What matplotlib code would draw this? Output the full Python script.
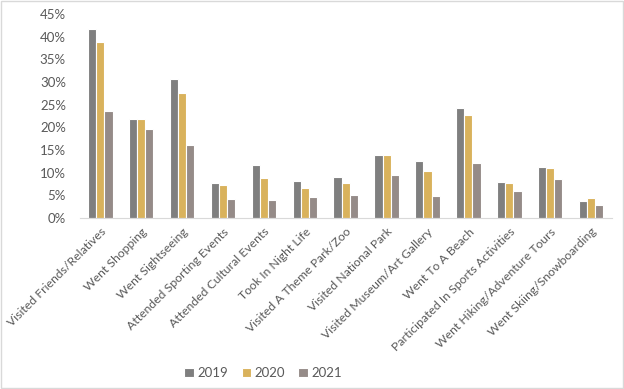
import matplotlib
matplotlib.use("Agg")
import matplotlib.pyplot as plt
import numpy as np
from matplotlib.ticker import PercentFormatter
from matplotlib.patches import Rectangle

# дані (у відсотках)
activities = [
    "Visited Friends/Relatives", "Went Shopping", "Went Sightseeing",
    "Attended Sporting Events", "Attended Cultural Events", "Took In Night Life",
    "Visited A Theme Park/Zoo", "Visited National Park", "Visited Museum/Art Gallery",
    "Went To A Beach", "Participated In Sports Activities",
    "Went Hiking/Adventure Tours", "Went Skiing/Snowboarding",
]
years = ["2019", "2020", "2021"]
v2019 = [41.7, 21.8, 30.7, 7.7, 11.7, 8.2, 9.0, 13.9, 12.6, 24.3, 7.9, 11.2, 3.7]
v2020 = [38.8, 21.8, 27.6, 7.2, 8.8, 6.6, 7.7, 13.8, 10.4, 22.7, 7.7, 11.0, 4.3]
v2021 = [23.6, 19.6, 16.1, 4.2, 4.0, 4.7, 5.1, 9.5, 4.8, 12.1, 5.9, 8.6, 2.8]

colors = ["#7f7f7f", "#d9b25c", "#958b88"]
text_color = "#595959"

plt.rcParams["font.family"] = ["Lato", "DejaVu Sans"]

fig = plt.figure(figsize=(6.24, 3.89), dpi=100)
ax = fig.add_axes([0.128, 0.44, 0.852, 0.524])

x = np.arange(len(activities))
w = 0.2
for i, (vals, year) in enumerate(zip([v2019, v2020, v2021], years)):
    ax.bar(x + (i - 1) * w, vals, width=w, color=colors[i], edgecolor="white",
           linewidth=0.8, label=year)

ax.set_ylim(0, 45)
ax.set_yticks(np.arange(0, 46, 5))
ax.yaxis.set_major_formatter(PercentFormatter(decimals=0))
ax.set_xlim(-0.5, len(activities) - 0.5)
ax.set_xticks(x)
ax.set_xticklabels(activities, rotation=45, ha="right", rotation_mode="anchor")
ax.tick_params(axis="y", length=0, labelsize=9.5, colors=text_color, pad=10)
ax.tick_params(axis="x", length=0, labelsize=8.8, colors=text_color, pad=6)

for s in ["top", "right", "left"]:
    ax.spines[s].set_visible(False)
ax.spines["bottom"].set_color("#d9d9d9")

fig.legend(loc="lower center", bbox_to_anchor=(0.422, -0.005), ncol=3, frameon=False,
           fontsize=9.5, labelcolor=text_color, handlelength=0.7, handleheight=0.7,
           handletextpad=0.3, columnspacing=1.0)

# світло-сіра рамка навколо рисунка
fig.patches.append(Rectangle((0.002, 0.002), 0.996, 0.996, transform=fig.transFigure,
                             fill=False, edgecolor="#d9d9d9", linewidth=1))

fig.savefig("out.png", dpi=100)
